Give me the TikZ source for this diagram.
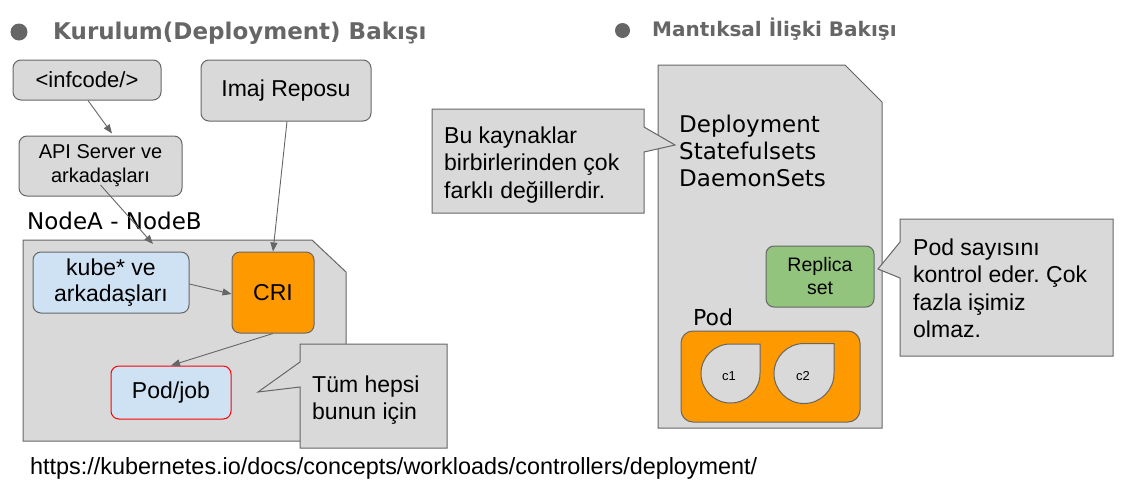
\documentclass[tikz,border=0pt]{standalone}
\usepackage{fontspec}
\setmainfont{Liberation Sans}
\newfontfamily\dejavu{DejaVu Sans}
\usetikzlibrary{arrows.meta}
\definecolor{boxgray}{HTML}{D9D9D9}
\definecolor{edgegray}{HTML}{666666}
\definecolor{lightblue}{HTML}{CFE2F3}
\definecolor{orangefill}{HTML}{FF9900}
\definecolor{greenfill}{HTML}{93C47D}
\definecolor{headgray}{HTML}{666666}
\definecolor{podred}{HTML}{FF0000}
\frenchspacing
\begin{document}
\begin{tikzpicture}[x=1pt,y=-1pt,
  rbox/.style={draw=edgegray, line width=1pt, rounded corners=8pt, inner sep=0pt, align=center, fill=boxgray},
  shapebox/.style={draw=edgegray, line width=1pt, fill=boxgray},
  arr/.style={draw=edgegray, line width=0.9pt, -{Triangle[length=9pt,width=7pt]}},
  calltext/.style={anchor=north west, inner sep=0pt, align=left, font=\fontsize{23}{27.5}\selectfont},
  head/.style={anchor=base west, inner sep=0pt, text=headgray}
]
\fill[white] (0,0) rectangle (1135,499);
\useasboundingbox (0,0) rectangle (1135,499);

% headers
\fill[headgray] (19,32) circle (8.5);
\node[head, font=\dejavu\bfseries\fontsize{23}{27}\selectfont] (h1) at (53,39) {Kurulum(Deployment) Bakışı};
\fill[headgray] (622.5,30.5) circle (7.5);
\node[head, font=\dejavu\bfseries\fontsize{20}{24}\selectfont] (h2) at (652,36) {Mantıksal İlişki Bakışı};

% ---------- left part ----------
\node[rbox, minimum width=148pt, minimum height=40pt, font=\fontsize{22}{26}\selectfont] (infcode) at (87,80) {<infcode/>};
\node[rbox, minimum width=170pt, minimum height=61pt, font=\fontsize{23}{27}\selectfont] (imaj) at (286,90.5) {Imaj Reposu};
\node[rbox, minimum width=163pt, minimum height=60pt, font=\fontsize{20}{24}\selectfont] (api) at (100.5,166) {API Server ve\\arkadaşları};

\node[anchor=base west, inner sep=0pt, font=\dejavu\fontsize{23}{27}\selectfont] (nodelabel) at (27,229) {NodeA - NodeB};

\draw[shapebox] (23,240) -- (312,240) -- (346,272) -- (346,441) -- (23,441) -- cycle;
\coordinate (nodetop) at (153,244);

\node[rbox, fill=lightblue, minimum width=156pt, minimum height=61pt, font=\fontsize{23}{26}\selectfont] (kube) at (111,282.5) {kube* ve\\arkadaşları};
\node[rbox, fill=orangefill, minimum width=82pt, minimum height=81pt, font=\fontsize{23}{27}\selectfont] (cri) at (273,292.5) {CRI};
\node[rbox, fill=lightblue, draw=podred, minimum width=120pt, minimum height=53pt, font=\fontsize{23}{27}\selectfont] (podjob) at (171,392.5) {Pod/job};

\draw[arr] ([xshift=1pt]infcode.south) -- ([xshift=11.5pt,yshift=2pt]api.north);
\draw[arr] ([yshift=-19pt]api.center) -- (nodetop);
\draw[arr] ([xshift=1pt]imaj.south) -- (cri.north);
\draw[arr] ([yshift=-1.5pt]kube.east) -- ([yshift=-1.5pt]cri.west);
\draw[arr] (cri.south) -- (podjob.north);

% callout Tum hepsi
\draw[shapebox] (300,344) -- (447,344) -- (447,448) -- (300,448) -- (300,387) -- (258,392) -- (300,362) -- cycle;
\node[calltext] (tum) at (312,374) {\rule{0pt}{18pt}Tüm hepsi\\bunun için};

% URL
\node[anchor=base west, inner sep=0pt, font=\fontsize{23.4}{27}\selectfont] (url) at (30,474) {https://kubernetes.io/docs/concepts/workloads/controllers/deployment/};

% ---------- right part ----------
\draw[shapebox] (658,65) -- (845,65) -- (882,102) -- (882,428) -- (658,428) -- cycle;
\node[anchor=north west, inner sep=0pt, align=left, font=\dejavu\fontsize{23}{27}\selectfont] (kinds) at (679,114) {\rule{0pt}{18pt}Deployment\\Statefulsets\\DaemonSets};

\node[rbox, fill=greenfill, minimum width=108pt, minimum height=61pt, font=\fontsize{19.5}{23}\selectfont] (replica) at (820,276.5) {Replica\\set};

\node[anchor=base west, inner sep=0pt, font=\dejavu\fontsize{22}{26}\selectfont] (podlabel) at (693,325) {Pod};
\node[rbox, fill=orangefill, minimum width=179pt, minimum height=91pt, rounded corners=12pt] (pod) at (770.5,376.5) {};

\draw[shapebox] (760,373.5) arc[start angle=0, end angle=270, radius=29.5] -- (760,344) -- cycle;
\node[inner sep=0pt, font=\fontsize{13}{15}\selectfont] (c1) at (729,376) {c1};
\draw[shapebox] (834,373.5) arc[start angle=0, end angle=270, radius=30] -- (834,343.5) -- cycle;
\node[inner sep=0pt, font=\fontsize{13}{15}\selectfont] (c2) at (803,376) {c2};

% callout Bu kaynaklar
\draw[shapebox] (432,109) -- (644,109) -- (644,127) -- (675,145) -- (644,152) -- (644,213) -- (432,213) -- cycle;
\node[calltext] (bu) at (444,125) {\rule{0pt}{18pt}Bu kaynaklar\\birbirlerinden çok\\farklı değillerdir.};

% callout Pod sayisini
\draw[shapebox] (900,219) -- (1113,219) -- (1113,356) -- (900,356) -- (900,278) -- (878,269) -- (900,242) -- cycle;
\node[calltext] (podsay) at (913,237) {\rule{0pt}{18pt}Pod sayısını\\kontrol eder. Çok\\fazla işimiz\\olmaz.};
\end{tikzpicture}
\end{document}
